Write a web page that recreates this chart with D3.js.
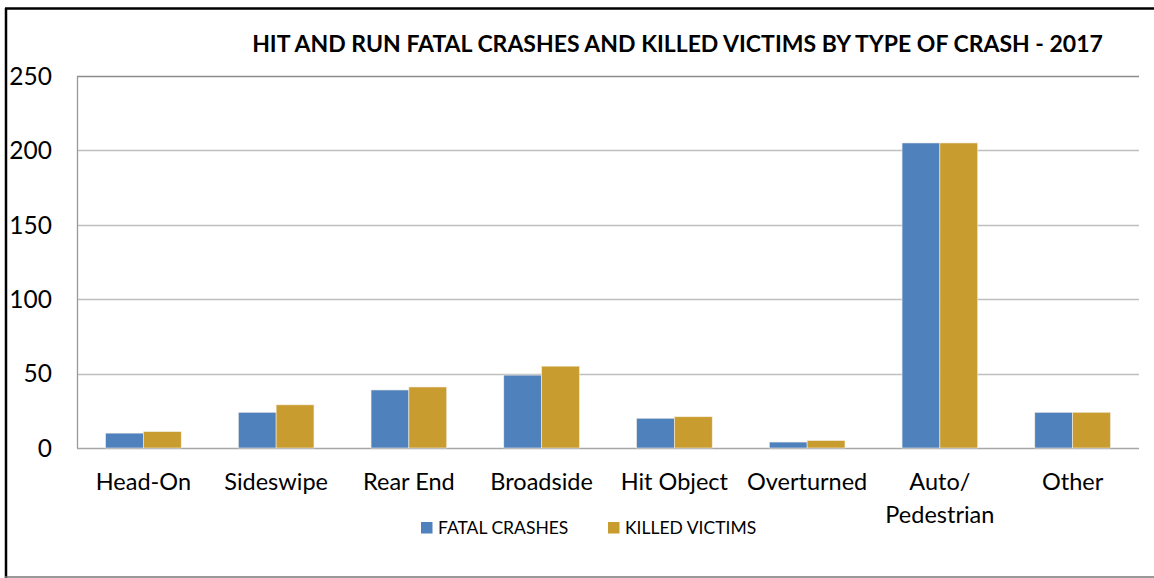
<!DOCTYPE html>
<html><head><meta charset="utf-8">
<script src="https://cdn.jsdelivr.net/npm/d3@7"></script>
<style>body{margin:0;background:#fff}svg{display:block}text{font-family:Lato,"Open Sans",sans-serif;fill:#000}</style>
</head><body><svg id="c" width="1154" height="578"></svg>
<script>
const title = "HIT AND RUN FATAL CRASHES AND KILLED VICTIMS BY TYPE OF CRASH - 2017";
const categories = ["Head-On","Sideswipe","Rear End","Broadside","Hit Object","Overturned","Auto/\nPedestrian","Other"];
const seriesNames = ["FATAL CRASHES","KILLED VICTIMS"];
const fatalCrashes = [10,24,39,49,20,4,205,24];
const killedVictims = [11,29,41,55,21,5,205,24];
const yTicks = [0,50,100,150,200,250];
const colors = ["#4F81BD","#C99C2F"];

const svg = d3.select("#c");
const L=77, R=1139, T=76, B=448;
const x = d3.scaleBand().domain(categories).range([L,R]).paddingInner(0.43).paddingOuter(0.215);
const xs = d3.scaleBand().domain(seriesNames).range([0,x.bandwidth()]);
const y = d3.scaleLinear().domain([0,250]).range([B,T]);

// border
svg.append("line").attr("x1",6).attr("x2",6).attr("y1",8).attr("y2",578).attr("stroke","#000").attr("stroke-width",2.5);
svg.append("line").attr("x1",5).attr("x2",1154).attr("y1",8.5).attr("y2",8.5).attr("stroke","#000").attr("stroke-width",2.5);
svg.append("line").attr("x1",5).attr("x2",1154).attr("y1",577).attr("y2",577).attr("stroke","#777").attr("stroke-width",1.5);

// gridlines
svg.append("g").selectAll("line").data(yTicks).join("line")
  .attr("x1",L).attr("x2",R).attr("y1",d=>Math.round(y(d))+0.5).attr("y2",d=>Math.round(y(d))+0.5)
  .attr("stroke",d=>d===250?"#8c8c8c":(d===0?"#a6a6a6":"#bfbfbf")).attr("stroke-width",d=>d===0?1.5:1.3);
svg.append("line").attr("x1",L+0.5).attr("x2",L+0.5).attr("y1",T).attr("y2",B).attr("stroke","#999").attr("stroke-width",1.3);

// y labels
svg.append("g").selectAll("text").data(yTicks).join("text")
  .attr("x",52).attr("y",d=>y(d)).attr("dy","0.36em").attr("text-anchor","end")
  .attr("font-size",24.5).text(d=>d);

// bars
const data = categories.map((c,i)=>({c, vals:[fatalCrashes[i],killedVictims[i]]}));
const g = svg.append("g").selectAll("g").data(data).join("g").attr("transform",d=>`translate(${x(d.c)},0)`);
g.selectAll("rect").data(d=>d.vals.map((v,j)=>({v,s:seriesNames[j],j}))).join("rect")
  .attr("x",d=>xs(d.s)).attr("width",xs.bandwidth()).attr("y",d=>y(d.v)).attr("height",d=>B-y(d.v))
  .attr("fill",d=>colors[d.j]).attr("stroke","#f2efe6").attr("stroke-width",0.6);

// x labels
svg.append("g").selectAll("text").data(categories).join("text")
  .attr("x",d=>x(d)+x.bandwidth()/2).attr("y",490).attr("text-anchor","middle").attr("font-size",23.5)
  .each(function(d){
    const lines=d.split("\n");
    d3.select(this).selectAll("tspan").data(lines).join("tspan")
      .attr("x",x(d)+x.bandwidth()/2).attr("dy",(l,i)=>i===0?0:33).text(l=>l);
  });

// title
const tt = svg.append("text").attr("x",677.5).attr("y",52).attr("text-anchor","middle")
  .attr("font-weight","bold").attr("font-size",20).text(title);
const w = tt.node().getComputedTextLength();
tt.attr("font-size",20*851/w);

// legend
const leg = [{x:421,tx:438},{x:608,tx:625}];
seriesNames.forEach((s,i)=>{
  svg.append("rect").attr("x",leg[i].x).attr("y",522).attr("width",11.5).attr("height",11.5).attr("fill",colors[i]);
  svg.append("text").attr("x",leg[i].tx).attr("y",533.5).attr("font-size",17.5).text(s);
});
</script></body></html>
